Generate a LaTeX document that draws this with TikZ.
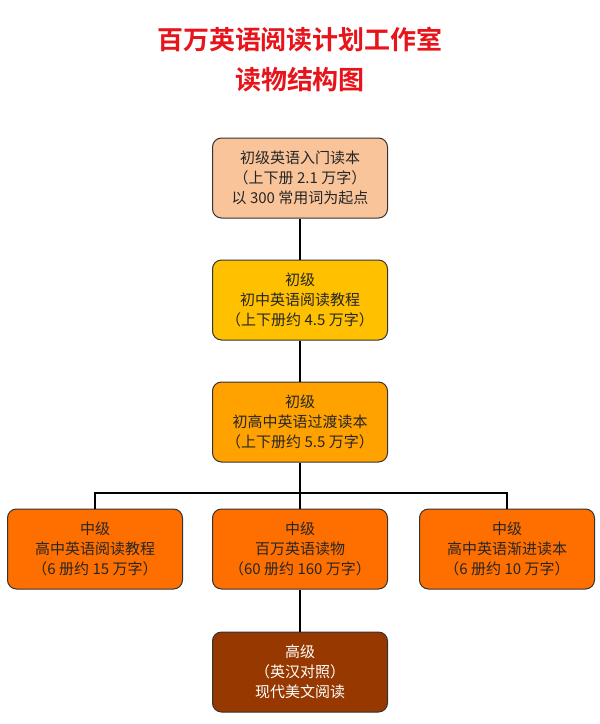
\documentclass[tikz,border=0pt]{standalone}
\usepackage{fontspec}
\setmainfont{Noto Sans CJK SC}
\newfontfamily\titlefont{Noto Sans CJK SC Bold}
\usepackage{xcolor}
\definecolor{boxpeach}{HTML}{F9C49A}
\definecolor{boxyellow}{HTML}{FFC000}
\definecolor{boxamber}{HTML}{FFA200}
\definecolor{boxorange}{HTML}{FF6F00}
\definecolor{boxbrown}{HTML}{973800}
\definecolor{titlered}{HTML}{E8141B}

\begin{document}
\begin{tikzpicture}[x=1pt,y=-1pt,
    level/.style={draw=black!80, rounded corners=9pt, line width=1pt, minimum width=175pt,
      minimum height=80pt, align=center, font=\fontsize{15}{20}\selectfont, text=black!85},
    link/.style={line width=2.5pt, black}]
    \useasboundingbox (0,0) rectangle (600,724);
    \node[font=\titlefont\fontsize{26}{40}\selectfont, text=titlered, align=center] (title) at (300,60)
      {百万英语阅读计划工作室\\读物结构图};

    \node[level, fill=boxpeach] (entry) at (300,178) {初级英语入门读本\\（上下册 2.1 万字）\\以 300 常用词为起点};
    \node[level, fill=boxyellow] (junior) at (300,300) {初级\\初中英语阅读教程\\（上下册约 4.5 万字）};
    \node[level, fill=boxamber] (bridge) at (300,422) {初级\\初高中英语过渡读本\\（上下册约 5.5 万字）};
    \node[level, fill=boxorange] (senior) at (95,549) {中级\\高中英语阅读教程\\（6 册约 15 万字）};
    \node[level, fill=boxorange] (million) at (300,549) {中级\\百万英语读物\\（60 册约 160 万字）};
    \node[level, fill=boxorange] (graded) at (507,549) {中级\\高中英语渐进读本\\（6 册约 10 万字）};
    \node[level, fill=boxbrown, text=white] (advanced) at (300,672) {高级\\（英汉对照）\\现代美文阅读};

    \coordinate (fork) at (300,493);
    \draw[link] (entry) -- (junior);
    \draw[link] (junior) -- (bridge);
    \draw[link] (bridge) -- (fork);
    \draw[link] (fork) -- (million);
    \draw[link] (fork) -| (senior);
    \draw[link] (fork) -| (graded);
    \draw[link] (million) -- (advanced);
\end{tikzpicture}
\end{document}
